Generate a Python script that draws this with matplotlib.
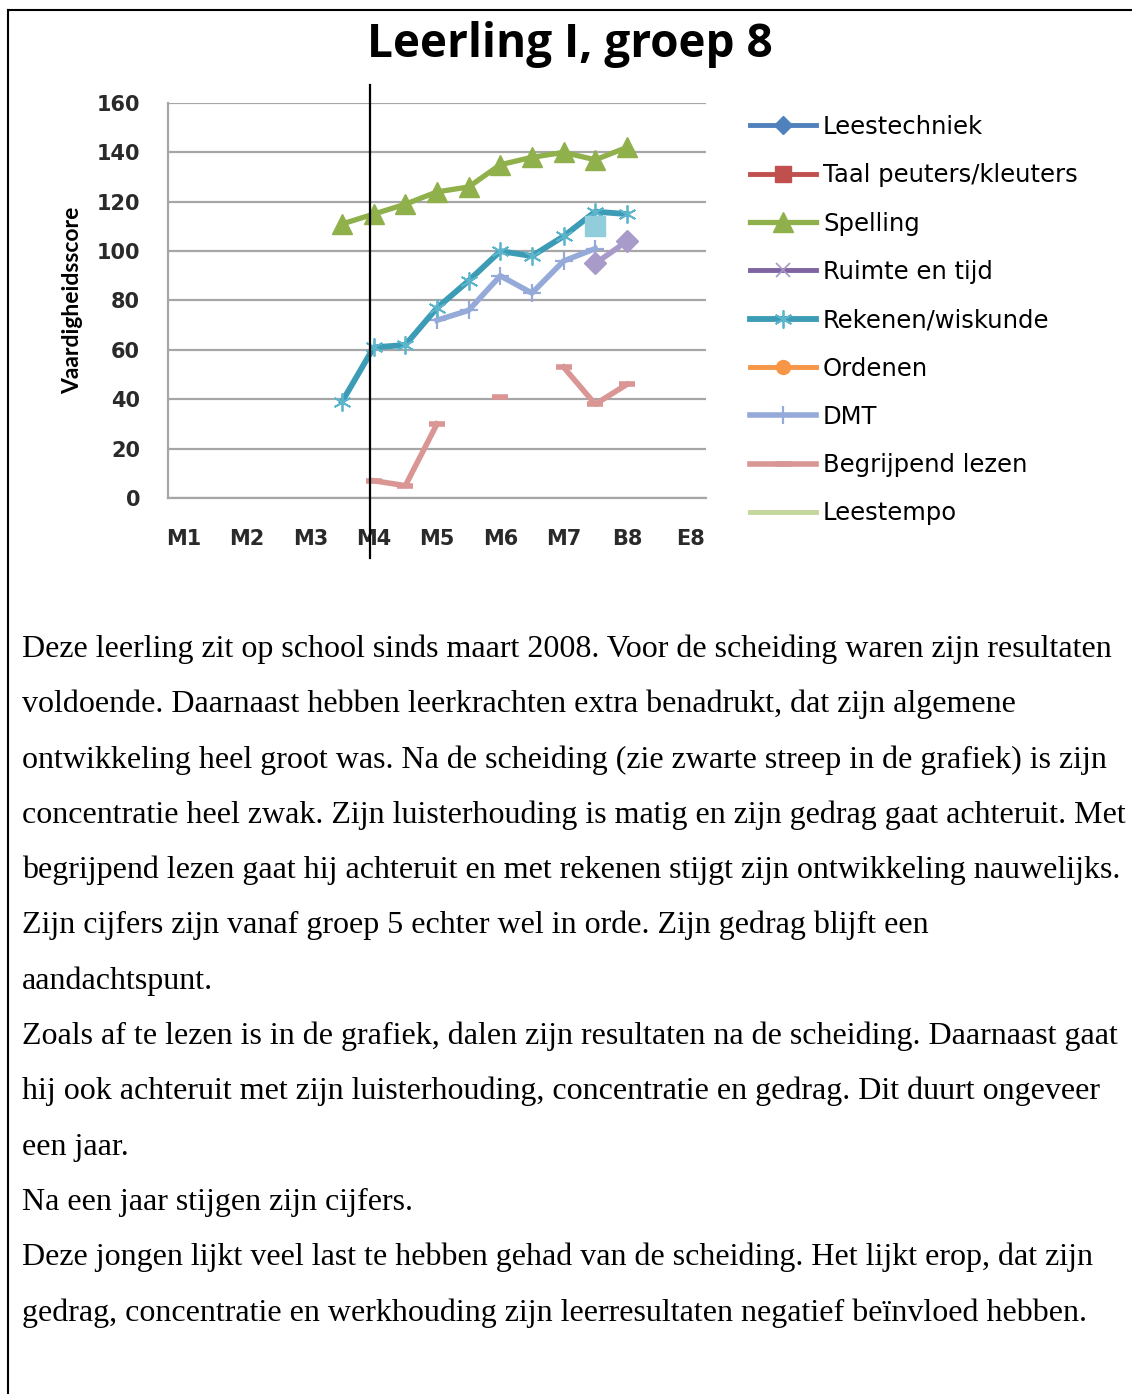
import numpy as np
import matplotlib
matplotlib.use("Agg")
import matplotlib.pyplot as plt
from matplotlib.lines import Line2D

# ---------------------------------------------------------------------------
# Data (17 half-year categories, labels shown on every other one)
# ---------------------------------------------------------------------------
nan = np.nan
tick_labels = ["M1", "M2", "M3", "M4", "M5", "M6", "M7", "B8", "E8"]

spelling   = [nan, nan, nan, nan, nan, 111, 115, 119, 124, 126, 135, 138, 140, 137, 142, nan, nan]
rekenen    = [nan, nan, nan, nan, nan, 39, 61, 62, 77, 88, 100, 98, 106, 116, 115, nan, nan]
dmt        = [nan, nan, nan, nan, nan, nan, nan, nan, 72, 76, 90, 83, 96, 101, nan, nan, nan]
begrijpend = [nan, nan, nan, nan, nan, nan, 7, 5, 30, nan, 41, nan, 53, 38, 46, nan, nan]
extra_diam = [nan, nan, nan, nan, nan, nan, nan, nan, nan, nan, nan, nan, nan, 95, 104, nan, nan]
extra_sq   = [nan, nan, nan, nan, nan, nan, nan, nan, nan, nan, nan, nan, nan, 110, nan, nan, nan]
empty      = [nan] * 17

separation_x = 5.88   # black "scheiding" line

body_lines = [
    "Deze leerling zit op school sinds maart 2008. Voor de scheiding waren zijn resultaten",
    "voldoende. Daarnaast hebben leerkrachten extra benadrukt, dat zijn algemene",
    "ontwikkeling heel groot was. Na de scheiding (zie zwarte streep in de grafiek) is zijn",
    "concentratie heel zwak. Zijn luisterhouding is matig en zijn gedrag gaat achteruit. Met",
    "begrijpend lezen gaat hij achteruit en met rekenen stijgt zijn ontwikkeling nauwelijks.",
    "Zijn cijfers zijn vanaf groep 5 echter wel in orde. Zijn gedrag blijft een",
    "aandachtspunt.",
    "Zoals af te lezen is in de grafiek, dalen zijn resultaten na de scheiding. Daarnaast gaat",
    "hij ook achteruit met zijn luisterhouding, concentratie en gedrag. Dit duurt ongeveer",
    "een jaar.",
    "Na een jaar stijgen zijn cijfers.",
    "Deze jongen lijkt veel last te hebben gehad van de scheiding. Het lijkt erop, dat zijn",
    "gedrag, concentratie en werkhouding zijn leerresultaten negatief beïnvloed hebben.",
]

# ---------------------------------------------------------------------------
# Figure
# ---------------------------------------------------------------------------
W, H = 1132, 1394
fig = plt.figure(figsize=(W / 100, H / 100), dpi=100)
fig.patch.set_facecolor("white")

# page border (top + left)
fig.add_artist(Line2D([8 / W, 1], [1 - 10 / H, 1 - 10 / H], color="black", lw=1.5))
fig.add_artist(Line2D([8 / W, 8 / W], [0, 1 - 10 / H], color="black", lw=1.5))

ax = fig.add_axes([168 / W, 1 - 498 / H, 538 / W, 395 / H])
x = np.arange(17)

GRID = "#A6A6A6"
ax.set_xlim(-0.5, 16.5)
ax.set_ylim(0, 160)
ax.set_yticks(np.arange(0, 161, 20))
ax.set_xticks(x[::2])
ax.set_xticklabels(tick_labels)
ax.grid(axis="y", color=GRID, lw=1.6, zorder=0)
ax.spines[["top", "right"]].set_visible(False)
ax.spines["left"].set_color(GRID)
ax.spines["left"].set_linewidth(1.6)
ax.spines["bottom"].set_color(GRID)
ax.spines["bottom"].set_linewidth(1.6)
ax.tick_params(length=0, labelsize=15, labelcolor="#2a2a2a")
ax.tick_params(axis="y", pad=20)
ax.tick_params(axis="x", pad=22)
for t in ax.get_xticklabels() + ax.get_yticklabels():
    t.set_fontfamily("DejaVu Sans")
    t.set_fontweight("bold")
ax.set_ylabel("Vaardigheidsscore", fontsize=16.5, fontweight="bold",
              fontfamily="Lato", labelpad=10)

# series in legend order
ax.plot(x, empty, color="#4F81BD", lw=3.5, marker="D", ms=9, label="Leestechniek")
ax.plot(x, empty, color="#C0504D", lw=3.5, marker="s", ms=11, label="Taal peuters/kleuters")
ax.plot(x, spelling, color="#8FB04A", lw=3.8, marker="^", ms=15, label="Spelling", zorder=4)
ax.plot(x, empty, color="#8064A2", lw=3.5, marker="x", ms=10, mew=1.2,
        mec="#A795C6", label="Ruimte en tijd")
ax.plot(x, rekenen, color="#3C9CB5", lw=4.2, marker=(6, 2, 0), ms=13, mew=1.3,
        mec="#5DB5CC", label="Rekenen/wiskunde", zorder=4)
ax.plot(x, empty, color="#F79646", lw=3.5, marker="o", ms=10, label="Ordenen")
ax.plot(x, dmt, color="#95AAD8", lw=4.0, marker="+", ms=13, mew=1.6,
        label="DMT", zorder=3)
ax.plot(x, begrijpend, color="#D99694", lw=4.0, marker="_", ms=12, mew=4,
        label="Begrijpend lezen", zorder=3)
ax.plot(x, empty, color="#C3D69B", lw=3.5, label="Leestempo")

# unnamed series visible in the chart only
ax.plot(x, extra_diam, color="#A99BC9", lw=4.0, marker="D", ms=11, zorder=3,
        label="_nolegend_")
ax.plot(x, extra_sq, color="#92CDDC", lw=0, marker="s", ms=15, zorder=5,
        label="_nolegend_")

# separation line
ax.axvline(separation_x, ymin=-0.152, ymax=1.046, color="black", lw=1.6,
           clip_on=False, zorder=6)

handles, labels = ax.get_legend_handles_labels()
fig.legend(handles, labels, loc="upper left",
           bbox_to_anchor=(750 / W, 1 - 115 / H), frameon=False,
           prop={"family": "DejaVu Sans", "size": 17.5}, handlelength=2.7,
           handletextpad=0.3, labelspacing=1.0, borderpad=0, borderaxespad=0)

# title
fig.text(570 / W, 1 - 44 / H, "Leerling I, groep 8", ha="center", va="center",
         fontsize=33, fontweight="bold", fontfamily="Open Sans")

# body text
for k, line in enumerate(body_lines):
    y = 657 + 55.3 * k
    fig.text(22 / W, 1 - y / H, line, ha="left", va="baseline",
             fontsize=23, fontfamily="Liberation Serif", color="black")

fig.savefig("out.png", dpi=100)
plt.close(fig)
